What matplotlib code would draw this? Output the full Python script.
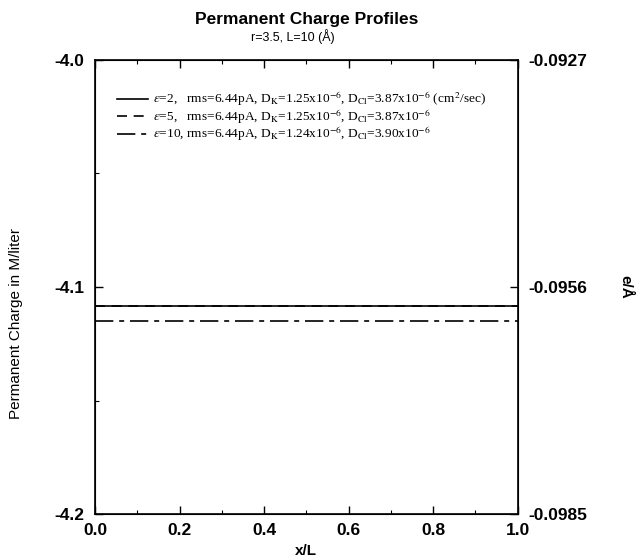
import numpy as np
import matplotlib
matplotlib.use('Agg')
import matplotlib.pyplot as plt
from matplotlib.ticker import MultipleLocator

plt.rcParams['font.family'] = 'Liberation Sans'
plt.rcParams['mathtext.fontset'] = 'stix'

# data
x = [0.0, 0.25, 0.5, 0.75, 1.0]
q_eps2 = [-4.1083, -4.1083, -4.1083, -4.1083, -4.1083]
q_eps5 = [-4.1083, -4.1083, -4.1083, -4.1083, -4.1083]
q_eps10 = [-4.1149, -4.1149, -4.1149, -4.1149, -4.1149]

labels = [r'$\epsilon$=2,   rms=6.44pA, D$_{\rm K}$=1.25x10$^{-6}$, D$_{\rm Cl}$=3.87x10$^{-6}$ (cm$^2$/sec)',
          r'$\epsilon$=5,   rms=6.44pA, D$_{\rm K}$=1.25x10$^{-6}$, D$_{\rm Cl}$=3.87x10$^{-6}$',
          r'$\epsilon$=10, rms=6.44pA, D$_{\rm K}$=1.24x10$^{-6}$, D$_{\rm Cl}$=3.90x10$^{-6}$']

left_ticks = [-4.2, -4.1, -4.0]
right_ticks = [-0.0985, -0.0956, -0.0927]

fig = plt.figure(figsize=(6.44, 5.6), dpi=100)
ax = fig.add_axes([0.1475, 0.082, 0.6565, 0.811])

ax.plot(x, q_eps2, color='black', lw=1.2, ls='-', label=labels[0])
ax.plot(x, q_eps5, color='black', lw=1.2, ls=(0, (6, 4)), label=labels[1])
ax.plot(x, q_eps10, color='black', lw=1.2, ls=(0, (11, 3.5, 3, 3.5)), label=labels[2])

ax.set_xlim(0, 1)
ax.set_ylim(-4.2, -4.0)
ax.set_xticks([0, 0.2, 0.4, 0.6, 0.8, 1.0])
ax.xaxis.set_minor_locator(MultipleLocator(0.1))
ax.set_yticks(left_ticks)
ax.set_yticklabels(['-4.2', '-4.1', '-4.0'])
ax.yaxis.set_minor_locator(MultipleLocator(0.05))
ax.tick_params(which='both', direction='in', top=True, labelsize=12.5)
ax.tick_params(which='major', length=6, width=1)
ax.tick_params(which='minor', length=3, width=0.8)
ax.tick_params(axis='y', pad=8)
ax.tick_params(axis='x', pad=6.5)
for lab in ax.get_xticklabels() + ax.get_yticklabels():
    lab.set_fontweight('bold')
for s in ax.spines.values():
    s.set_linewidth(1.2)

ax.set_xlabel('x/L', fontsize=11, fontweight='bold', labelpad=4)
ax.set_ylabel('Permanent Charge in M/liter', fontsize=11)
ax.yaxis.set_label_coords(-0.17, 0.42)

ax2 = ax.twinx()
ax2.set_ylim(-0.0985, -0.0927)
ax2.set_yticks(right_ticks)
ax2.set_yticklabels(['-0.0985', '-0.0956', '-0.0927'])
ax2.tick_params(direction='in', length=6, width=1, labelsize=12.5, pad=7.5)
for lab in ax2.get_yticklabels():
    lab.set_fontweight('bold')
ax2.set_ylabel('e/Å', fontsize=11, fontweight='bold', rotation=270, va='center')
ax2.yaxis.set_label_coords(1.255, 0.5)

ax.legend(loc='upper left', bbox_to_anchor=(0.052, 0.935), frameon=False,
          prop={'family': 'Liberation Serif', 'size': 9.6}, handlelength=2.35,
          handletextpad=0.38, labelspacing=-0.1, borderaxespad=0, borderpad=0)

xc = 0.1475 + 0.6565 / 2
fig.text(xc, 0.966, 'Permanent Charge Profiles', ha='center', va='center',
         fontsize=12.5, fontweight='bold')
fig.text(0.39, 0.935, 'r=3.5, L=10 (Å)', ha='left', va='center', fontsize=9)

fig.savefig('out.png', dpi=100)
